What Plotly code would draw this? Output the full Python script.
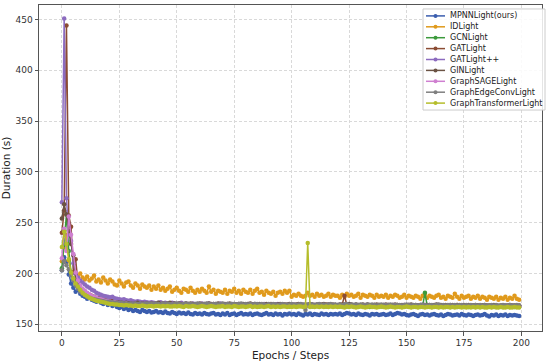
import plotly.graph_objects as go

epochs = list(range(200))

mpnn = [203, 216, 211, 199, 190, 186, 182, 184, 180, 178, 177, 175, 176, 174, 173, 172, 173, 171, 170, 171,
        169, 170, 168, 169, 167, 166, 167, 165, 166, 164, 165, 163, 164, 163, 162, 164, 163, 162, 163, 161.5,
        162, 163, 161.5, 162, 161, 162.5, 161, 160.5, 162, 161, 160, 161.5, 160.5, 161, 160, 161.5, 160, 159.5, 161, 160,
        160.5, 159.5, 161, 160, 159.5, 160.5, 161, 159.5, 160, 159, 160.5, 159.5, 161, 159, 160, 160.5, 159, 160, 161, 159.5,
        160, 159.5, 160.5, 159, 160, 160.5, 159.5, 159, 160, 161, 159.5, 160, 159, 160.5, 159.5, 160, 158.5, 160, 159.5, 160.5,
        159.5, 160, 159, 160.5, 159.5, 158.5, 160, 159.5, 160.5, 159, 160, 159.5, 159, 160.5, 159.5, 160, 159, 160, 159.5, 160,
        159.5, 160.5, 159, 160, 161, 160.5, 159.5, 160, 159, 160.5, 159.5, 159, 160, 159.5, 158.5, 160, 159.5, 160, 159, 159.5,
        160, 159, 159.5, 160.5, 159, 160, 161, 160.5, 159.5, 160, 159, 158.5, 159.5, 160, 159, 158, 159.5, 160, 159, 159.5,
        158.5, 159.5, 160, 159, 158.5, 159.5, 158, 159, 160, 159.5, 158.5, 159, 159.5, 158.5, 160, 159, 158.5, 159.5, 159, 158,
        159, 159.5, 158.5, 159, 160, 158.5, 157.5, 159, 158.5, 159.5, 158, 159, 158.5, 159.5, 158, 159, 158.5, 159, 158.5, 158]

idlight = [212, 226, 238, 213, 201, 195, 191, 197, 200, 196, 194, 197, 193, 195, 198, 192, 194, 191, 196, 193,
           190, 194, 192, 189, 188, 193, 190, 187, 191, 192, 188, 186, 190, 188, 185, 189, 187, 186, 188, 184,
           187, 185, 188, 184, 186, 183, 185, 187, 182, 184, 186, 183, 181, 185, 184, 182, 186, 183, 181, 184,
           182, 185, 183, 181, 187, 182, 184, 180, 183, 182, 181, 184, 180, 183, 182, 185, 181, 183, 180, 184,
           182, 181, 184, 180, 183, 185, 181, 182, 179, 183, 181, 180, 182, 178, 181, 182, 180, 183, 181, 183,
           177, 179, 178, 180, 178, 177, 178, 181, 178, 179, 177, 180, 178, 179, 177, 178, 180, 177, 179, 178,
           178, 176, 179, 177, 180, 178, 179, 177, 178, 180, 176, 179, 178, 177, 179, 178, 176, 179, 177, 178,
           177, 179, 176, 178, 177, 179, 178, 176, 177, 179, 176, 178, 177, 176, 178, 177, 175, 178, 180, 176,
           178, 177, 176, 178, 179, 176, 177, 175, 178, 177, 176, 180, 177, 175, 178, 176, 177, 178, 175, 177,
           176, 178, 175, 177, 176, 174, 177, 176, 175, 177, 174, 176, 175, 177, 174, 176, 175, 178, 175, 174]

gcn = [205, 228, 258, 222, 201, 194, 189, 186, 183, 181, 179, 178, 177, 176, 175, 175, 174, 173.5, 173, 173,
       172.5, 172, 172, 171.5, 171, 171.5, 170.5, 171, 170, 170.5, 170, 169.5, 170, 169.5, 170, 169, 169.5, 170, 169, 169.5,
       169, 168.5, 169.5, 169, 168.5, 169, 169.5, 168.5, 169, 168, 169, 168.5, 169, 169.5, 168.5, 168, 169, 168.5, 169, 168.5,
       168, 169, 168.5, 168, 169, 168.5, 169, 168, 168.5, 169, 168, 168.5, 168, 169, 168.5, 168, 168.5, 169, 168, 168.5,
       168, 168.5, 169, 168, 168.5, 168, 167.5, 168.5, 168, 169, 168, 167.5, 168.5, 168, 168.5, 167.5, 168, 168.5, 168, 167.5,
       168, 168.5, 167.5, 168, 168.5, 168, 167.5, 168, 168.5, 167.5, 168, 168, 167.5, 168.5, 168, 167.5, 168, 168.5, 167.5, 168,
       168, 167.5, 168.5, 168, 167.5, 168, 168.5, 167.5, 168, 167.5, 168, 168.5, 167.5, 168, 167, 168, 167.5, 168, 168.5, 167.5,
       168, 167.5, 167, 168, 167.5, 168, 167.5, 168, 167, 167.5, 168, 167.5, 167, 168, 167.5, 167, 168, 167.5, 181, 168,
       167.5, 167, 168, 167.5, 167, 167.5, 168, 167, 167.5, 167, 168, 167.5, 167, 167.5, 168, 167, 167.5, 167, 167.5, 168,
       167, 167.5, 167, 168, 167.5, 167, 167.5, 167, 168, 167.5, 167, 167.5, 167, 167.5, 168, 167, 167.5, 167, 167.5, 167]

gat = [240, 262, 444, 257, 246, 201, 214, 191, 186, 184, 182, 180, 179, 178, 177, 176, 175.5, 175, 174, 173.5,
       173, 173, 172.5, 172, 172, 171.5, 171, 171.5, 171, 170.5, 171, 170.5, 170, 170.5, 170, 170.5, 169.5, 170, 170.5, 169.5,
       170, 169.5, 170, 170.5, 169.5, 170, 169, 170, 169.5, 170, 169.5, 169, 170, 169.5, 170, 169, 169.5, 170, 169, 169.5,
       169.5, 169, 170, 169.5, 169, 169.5, 170, 169, 169.5, 169, 169.5, 170, 169, 169.5, 169, 168.5, 169.5, 169, 169.5, 169,
       169, 169.5, 168.5, 169, 169.5, 169, 168.5, 169, 169.5, 168.5, 169, 169, 168.5, 169.5, 169, 168.5, 169, 169.5, 168.5, 169,
       169, 168.5, 169, 169.5, 168.5, 169, 168.5, 169, 169, 168.5, 169, 168.5, 169, 168.5, 169, 169.5, 168.5, 169, 168.5, 169,
       168.5, 169, 169.5, 178, 169, 168.5, 169, 168.5, 169, 168.5, 169, 168, 168.5, 169, 168.5, 168, 169, 168.5, 169, 168.5,
       168.5, 168, 169, 168.5, 168, 168.5, 169, 168, 168.5, 168, 168.5, 169, 168, 168.5, 168, 168.5, 168, 168.5, 169, 168,
       168.5, 168, 168.5, 168, 169, 168.5, 168, 168.5, 168, 168.5, 168, 168.5, 169, 168, 168.5, 168, 168.5, 168, 168.5, 168,
       168, 168.5, 168, 168.5, 168, 167.5, 168.5, 168, 168.5, 168, 167.5, 168, 168.5, 168, 167.5, 168, 168.5, 168, 167.5, 168]

gatpp = [270, 451, 274, 238, 232, 210, 200, 196, 193, 191, 189, 187, 186, 184, 183, 181, 180, 179, 178, 177.5,
         177, 176.5, 177, 175.5, 175, 174.5, 174, 174.5, 173.5, 173, 173.5, 172.5, 172, 172.5, 172, 171.5, 172, 171.5, 171, 171.5,
         171, 170.5, 171, 171.5, 170.5, 171, 170.5, 170, 171, 170.5, 170, 170.5, 171, 170, 170.5, 170, 169.5, 170.5, 170, 169.5,
         170, 170.5, 169.5, 170, 170.5, 169.5, 170, 169.5, 170, 170.5, 169.5, 169, 170, 169.5, 170, 169.5, 169, 170, 169.5, 169,
         169.5, 170, 169, 169.5, 170, 169, 169.5, 169, 170, 169.5, 169, 169.5, 169, 169.5, 170, 169, 169.5, 169, 168.5, 169.5,
         169, 169.5, 168.5, 169, 169.5, 169, 168.5, 169, 169.5, 169, 168.5, 169, 169.5, 168.5, 169, 168.5, 169, 169.5, 168.5, 169,
         168.5, 169, 168.5, 169, 169.5, 168.5, 169, 168.5, 169, 168, 168.5, 169, 168.5, 169, 168, 168.5, 169, 168.5, 168, 168.5,
         169, 168.5, 168, 168.5, 169, 168, 168.5, 168, 168.5, 169, 168, 168.5, 168, 168.5, 168, 168.5, 169, 168, 168.5, 168,
         168.5, 168, 168.5, 169, 168, 168.5, 168, 168.5, 168, 167.5, 168.5, 168, 168.5, 168, 167.5, 168, 168.5, 168, 168.5, 168,
         168, 168.5, 167.5, 168, 168.5, 168, 167.5, 168, 168.5, 168, 167.5, 168, 168, 168.5, 167.5, 168, 168, 167.5, 168, 168]

gin = [254, 268, 258, 242, 229, 218, 193, 189, 186, 183, 181, 180, 178.5, 177, 176, 175.5, 175, 174, 173.5, 173,
       172.5, 172, 172, 171.5, 171.5, 171, 171, 170.5, 171, 170.5, 170.5, 170, 170.5, 171, 170, 170.5, 170, 170.5, 170, 170.5,
       170, 170.5, 171, 170, 170.5, 170, 170.5, 171, 170, 170.5, 170, 170.5, 170, 169.5, 170.5, 170, 170.5, 170, 169.5, 170,
       170.5, 170, 169.5, 170, 170.5, 170, 169.5, 170, 170.5, 169.5, 170, 169.5, 170, 170.5, 169.5, 170, 169.5, 170, 169.5, 170,
       169.5, 170, 170.5, 169.5, 170, 169.5, 170, 169.5, 169, 170, 169.5, 170, 169.5, 169, 169.5, 170, 169.5, 169, 169.5, 170,
       169.5, 169, 169.5, 170, 169.5, 169, 169.5, 169, 170, 169.5, 169, 169.5, 169, 169.5, 170, 169, 169.5, 169, 169.5, 169,
       169, 169.5, 169, 169.5, 169, 170, 169.5, 169, 169.5, 169, 168.5, 169.5, 169, 169.5, 169, 168.5, 169, 169.5, 169, 168.5,
       169, 169.5, 169, 168.5, 169, 169.5, 169, 168.5, 169, 169, 168.5, 169, 169.5, 168.5, 169, 168.5, 169, 169, 168.5, 169,
       169, 168.5, 169, 169.5, 168.5, 169, 168.5, 169, 168.5, 169, 169, 168.5, 169, 168.5, 168, 169, 168.5, 169, 168.5, 168.5,
       169, 168.5, 168, 168.5, 169, 168.5, 168, 168.5, 169, 168.5, 168, 168.5, 168.5, 168, 168.5, 169, 168, 168.5, 168, 168.5]

sage = [215, 244, 222, 256, 238, 219, 201, 193, 188, 185, 183, 181, 179.5, 178, 177, 176, 175, 174.5, 173.5, 173,
        172.5, 172, 171.5, 171.5, 171, 170.5, 170.5, 170, 170.5, 169.5, 170, 169.5, 170, 169, 169.5, 170, 169, 169.5, 169, 169.5,
        169, 169.5, 169, 168.5, 169.5, 169, 168.5, 169, 169.5, 168.5, 169, 168.5, 169, 169.5, 168.5, 169, 168.5, 169, 168.5, 169,
        168.5, 169, 169.5, 168.5, 169, 168.5, 169, 168, 168.5, 169, 168.5, 169, 168.5, 168, 169, 168.5, 169, 168.5, 168, 168.5,
        169, 168.5, 168, 168.5, 169, 168.5, 168, 168.5, 169, 168, 168.5, 169, 168.5, 168, 168.5, 169, 168, 168.5, 168, 168.5,
        168.5, 168, 168.5, 169, 168, 168.5, 168, 168.5, 169, 168.5, 168, 168.5, 168, 168.5, 169, 168, 168.5, 168, 168.5, 168,
        168.5, 168, 168.5, 168, 169, 168.5, 168, 168.5, 168, 168.5, 168, 167.5, 168.5, 168, 168.5, 168, 167.5, 168, 168.5, 168,
        168, 168.5, 168, 167.5, 168, 168.5, 168, 167.5, 168, 168.5, 168, 167.5, 168, 168, 167.5, 168, 168.5, 168, 167.5, 168,
        168, 167.5, 168, 168.5, 167.5, 168, 167.5, 168, 168, 167.5, 168, 168.5, 167.5, 168, 167.5, 168, 168, 167.5, 168, 167.5,
        168, 167.5, 168, 167.5, 168, 168, 167.5, 168, 167.5, 168, 167.5, 168, 168, 167.5, 168, 167.5, 168, 167.5, 168, 167.5]

edgeconv = [203, 212, 208, 204, 198, 193, 188, 185, 182, 180, 178.5, 177, 176, 175, 174.5, 174, 173.5, 173, 172.5, 172,
            172, 171.5, 171.5, 171, 171, 170.5, 171, 170.5, 170.5, 170, 170.5, 170, 170.5, 170, 170.5, 170, 170, 170.5, 170, 170.5,
            170, 170.5, 170, 169.5, 170.5, 170, 170.5, 170, 169.5, 170, 170.5, 170, 169.5, 170, 170.5, 170, 170, 169.5, 170, 170.5,
            170, 169.5, 170, 170.5, 170, 169.5, 170, 170, 169.5, 170, 170.5, 169.5, 170, 169.5, 170, 170, 169.5, 170, 170.5, 169.5,
            170, 169.5, 170, 169.5, 170, 170, 169.5, 170, 169.5, 169, 170, 169.5, 170, 169.5, 169, 169.5, 170, 169.5, 169, 169.5,
            170, 169.5, 169, 169.5, 170, 169.5, 164, 169.5, 170, 169.5, 169, 169.5, 170, 169, 169.5, 169, 169.5, 170, 169, 169.5,
            169, 169.5, 169, 169.5, 170, 169, 169.5, 169, 169.5, 169, 169.5, 169, 168.5, 169.5, 169, 169.5, 169, 168.5, 169, 169.5,
            169, 168.5, 169, 169.5, 169, 168.5, 169, 169, 168.5, 169, 169.5, 169, 168.5, 169, 169, 168.5, 169, 169.5, 169, 168.5,
            169, 169, 168.5, 169, 169.5, 168.5, 169, 168.5, 169, 169, 168.5, 169, 168.5, 169, 169, 168.5, 169, 168.5, 169, 168.5,
            169, 168.5, 169, 168.5, 169, 168.5, 168.5, 169, 168.5, 169, 168.5, 168.5, 169, 168.5, 168.5, 169, 168.5, 168.5, 169, 168.5]

transformer = [226, 241, 229, 214, 201, 195, 190, 187, 184, 181, 179, 177.5, 176, 175, 174, 173, 172.5, 172, 171.5, 171,
               170.5, 170, 170, 169.5, 169.5, 169, 169, 168.5, 169, 168.5, 168.5, 168, 168.5, 168, 168, 168.5, 168, 167.5, 168, 168,
               167.5, 168, 168, 167.5, 168, 167.5, 168, 167.5, 167.5, 168, 167.5, 168, 167.5, 167, 168, 167.5, 167.5, 168, 167.5, 167,
               167.5, 168, 167.5, 167, 167.5, 168, 167.5, 167, 167.5, 167.5, 168, 167, 167.5, 167.5, 167, 168, 167.5, 167, 167.5, 167.5,
               167, 167.5, 168, 167, 167.5, 167, 167.5, 167.5, 167, 167.5, 168, 167, 167.5, 167, 167.5, 167, 167.5, 167.5, 167, 167.5,
               167, 167.5, 167, 167.5, 167.5, 167, 167.5, 230, 167, 167.5, 167, 167.5, 167, 167.5, 167, 167.5, 167, 167.5, 167, 167.5,
               167, 167.5, 167, 166.5, 167.5, 167, 167.5, 167, 166.5, 167, 167.5, 167, 166.5, 167, 167.5, 167, 167, 166.5, 167, 167.5,
               167, 166.5, 167, 167.5, 167, 166.5, 167, 167, 166.5, 167, 167.5, 167, 166.5, 167, 167, 166.5, 167, 167, 166.5, 167,
               167, 166.5, 167, 167, 166.5, 167, 166.5, 167, 167, 166.5, 167, 166.5, 167, 167, 166.5, 167, 166.5, 167, 166.5, 167,
               166.5, 167, 166.5, 167, 166.5, 166.5, 167, 166.5, 167, 166.5, 166.5, 167, 166.5, 166.5, 167, 166.5, 166.5, 167, 166.5, 166.5]

names = ["MPNNLight(ours)", "IDLight", "GCNLight", "GATLight", "GATLight++", "GINLight",
         "GraphSAGELight", "GraphEdgeConvLight", "GraphTransformerLight"]
series = [mpnn, idlight, gcn, gat, gatpp, gin, sage, edgeconv, transformer]
colors = ["#3a5dae", "#e09a1c", "#3c9a3c", "#8b4c33", "#8c6bbf", "#6b5344",
          "#cf7fd0", "#7f7f7f", "#b5bd2b"]

W, H = 550, 364
ML, MR, MT, MB = 39, 8, 4, 31
PW, PH = W - ML - MR, H - MT - MB

def px(xp):
    return (xp - ML) / PW

def py(yp):
    return 1 - (yp - MT) / PH

fig = go.Figure()
for name, ys, c in zip(names, series, colors):
    fig.add_trace(go.Scatter(x=epochs, y=ys, name=name, mode="lines+markers",
                             line=dict(color=c, width=1.5),
                             marker=dict(color=c, size=4.5), showlegend=False))

font = "DejaVu Sans"
axis_common = dict(showline=True, linecolor="#555555", linewidth=1, mirror=True,
                   ticks="outside", ticklen=3.5, tickcolor="#555555", tickwidth=1,
                   showgrid=True, gridcolor="#d9d9d9", griddash="3px,2px", gridwidth=0.8,
                   zeroline=False, tickfont=dict(family=font, size=9, color="#333333"))
fig.update_xaxes(range=[-9.95, 208.95], tickvals=[0, 25, 50, 75, 100, 125, 150, 175, 200],
                 title=dict(text="Epochs / Steps", font=dict(family=font, size=10.5, color="#222222"), standoff=4),
                 **axis_common)
fig.update_yaxes(range=[143.3, 464.3], tickvals=[150, 200, 250, 300, 350, 400, 450],
                 title=dict(text="Duration (s)", font=dict(family=font, size=10.5, color="#222222"), standoff=2),
                 **axis_common)

# manual compact legend (matplotlib-like spacing)
shapes = [dict(type="rect", xref="paper", yref="paper", layer="above",
               x0=px(423), x1=px(545), y0=py(110), y1=py(8),
               fillcolor="rgba(255,255,255,0.85)", line=dict(color="#cccccc", width=1))]
annotations = []
for i, (name, c) in enumerate(zip(names, colors)):
    yc = 15 + i * 11.0
    shapes.append(dict(type="line", xref="paper", yref="paper", layer="above",
                       x0=px(426), x1=px(445), y0=py(yc), y1=py(yc),
                       line=dict(color=c, width=1.5)))
    shapes.append(dict(type="circle", xref="paper", yref="paper", layer="above",
                       x0=px(433.5), x1=px(437.5), y0=py(yc + 2), y1=py(yc - 2),
                       fillcolor=c, line=dict(color=c, width=0)))
    annotations.append(dict(xref="paper", yref="paper", x=px(448), y=py(yc),
                            xanchor="left", yanchor="middle", showarrow=False,
                            text=name, font=dict(family=font, size=8, color="#222222")))

fig.update_layout(width=W, height=H, margin=dict(l=ML, r=MR, t=MT, b=MB),
                  plot_bgcolor="white", paper_bgcolor="white",
                  font=dict(family=font), showlegend=False, hovermode=False,
                  shapes=shapes, annotations=annotations)
fig.write_html("out.html", config={"displayModeBar": False},
               post_script="document.body.style.margin='0';")
